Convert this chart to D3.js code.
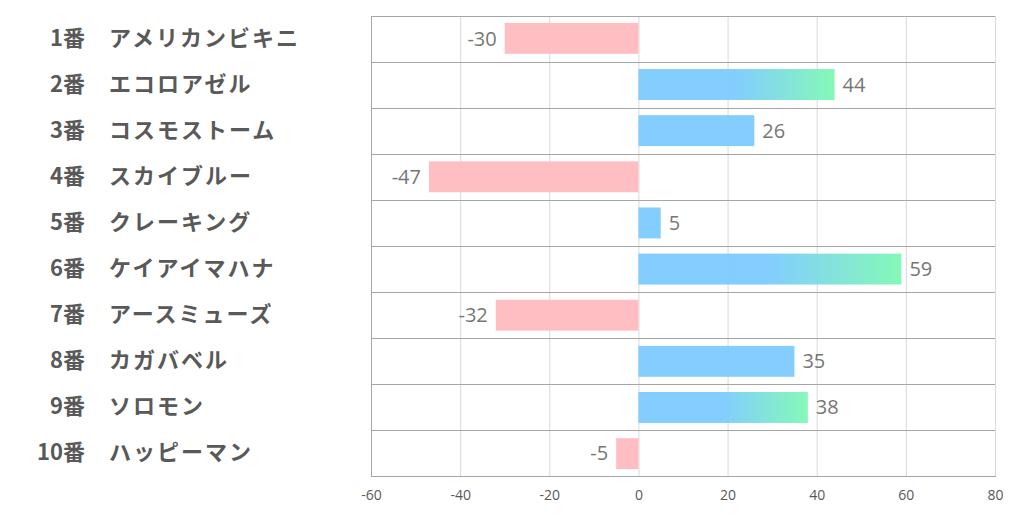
<!DOCTYPE html>
<html><head><meta charset="utf-8">
<script src="https://cdn.jsdelivr.net/npm/d3@7"></script>
<style>body{margin:0;background:#fff}svg{display:block}</style>
</head><body>
<svg id="c" width="1022" height="522"></svg>
<script>
const numbers = ["1番","2番","3番","4番","5番","6番","7番","8番","9番","10番"];
const names = ["アメリカンビキニ","エコロアゼル","コスモストーム","スカイブルー","クレーキング","ケイアイマハナ","アースミューズ","カガバベル","ソロモン","ハッピーマン"];
const values = [-30,44,26,-47,5,59,-32,35,38,-5];
const gradientFlags = [false,true,false,false,false,true,false,false,true,false];
const xTicks = [-60,-40,-20,0,20,40,60,80];

const svg = d3.select("#c");
const L=371,R=995,T=16,B=476;
const x = d3.scaleLinear().domain([-60,80]).range([L,R]);
const y = d3.scaleBand().domain(d3.range(values.length)).range([T,B]).paddingInner(0.33).paddingOuter(0.15);
const rows = d3.scaleBand().domain(d3.range(values.length)).range([T,B]);

const defs = svg.append("defs");
const grad = defs.append("linearGradient").attr("id","g").attr("x1","0").attr("x2","1").attr("y1","0").attr("y2","0");
grad.append("stop").attr("offset","0").attr("stop-color","#7ccbfe");
grad.append("stop").attr("offset","0.5").attr("stop-color","#7ccbfe");
grad.append("stop").attr("offset","1").attr("stop-color","#7ef8b3");

// vertical grid
svg.append("g").selectAll("line").data(xTicks.slice(1,-1)).join("line")
  .attr("x1",d=>x(d)+0.5).attr("x2",d=>x(d)+0.5).attr("y1",T).attr("y2",B)
  .attr("stroke","#d9d9d9").attr("stroke-width",1);

// bars
svg.append("g").selectAll("rect").data(values).join("rect")
  .attr("x",d=>x(Math.min(0,d))).attr("width",d=>Math.abs(x(d)-x(0)))
  .attr("y",(d,i)=>y(i)).attr("height",y.bandwidth())
  .attr("fill",(d,i)=>d<0?"#ffbbbe":(gradientFlags[i]?"url(#g)":"#7ccbfe"))
  .attr("opacity",0.95);

// horizontal lines
svg.append("g").selectAll("line").data(d3.range(values.length+1)).join("line")
  .attr("x1",L).attr("x2",R+1)
  .attr("y1",i=>(i<values.length?rows(i):B)+0.5).attr("y2",i=>(i<values.length?rows(i):B)+0.5)
  .attr("stroke","#a6a6a6").attr("stroke-width",1);
[L,R].forEach(px=>svg.append("line").attr("x1",px+0.5).attr("x2",px+0.5).attr("y1",T).attr("y2",B)
  .attr("stroke",px===L?"#a6a6a6":"#d9d9d9"));

// value labels
svg.append("g").selectAll("text").data(values).join("text")
  .attr("x",d=>d<0?x(d)-8:x(d)+8)
  .attr("y",(d,i)=>rows(i)+rows.bandwidth()/2)
  .attr("dy","0.36em")
  .attr("text-anchor",d=>d<0?"end":"start")
  .attr("font-family","'Open Sans','Noto Sans',sans-serif").attr("font-size",20)
  .attr("fill","#767676").text(d=>String(d));

// category labels
const lab = svg.append("g").attr("font-family","'Noto Sans CJK JP',sans-serif").attr("font-weight","bold").attr("font-size",22).attr("fill","#595959");
lab.selectAll("text.n").data(numbers).join("text").attr("class","n")
  .attr("x",85).attr("y",(d,i)=>rows(i)+rows.bandwidth()/2-1).attr("dy","0.36em")
  .attr("text-anchor","end").text(d=>d);
lab.selectAll("text.m").data(names).join("text").attr("class","m")
  .attr("x",109).attr("y",(d,i)=>rows(i)+rows.bandwidth()/2-1).attr("dy","0.36em")
  .attr("letter-spacing","2px")
  .text(d=>d);

// x axis
const ax = svg.append("g").attr("transform",`translate(0,${B})`)
  .call(d3.axisBottom(x).tickValues(xTicks).tickSize(0).tickPadding(14).tickFormat(d=>String(d)));
ax.select(".domain").remove();
ax.selectAll("text").attr("font-family","'Open Sans','Noto Sans',sans-serif").attr("font-size",14).attr("fill","#595959");
</script>
</body></html>
